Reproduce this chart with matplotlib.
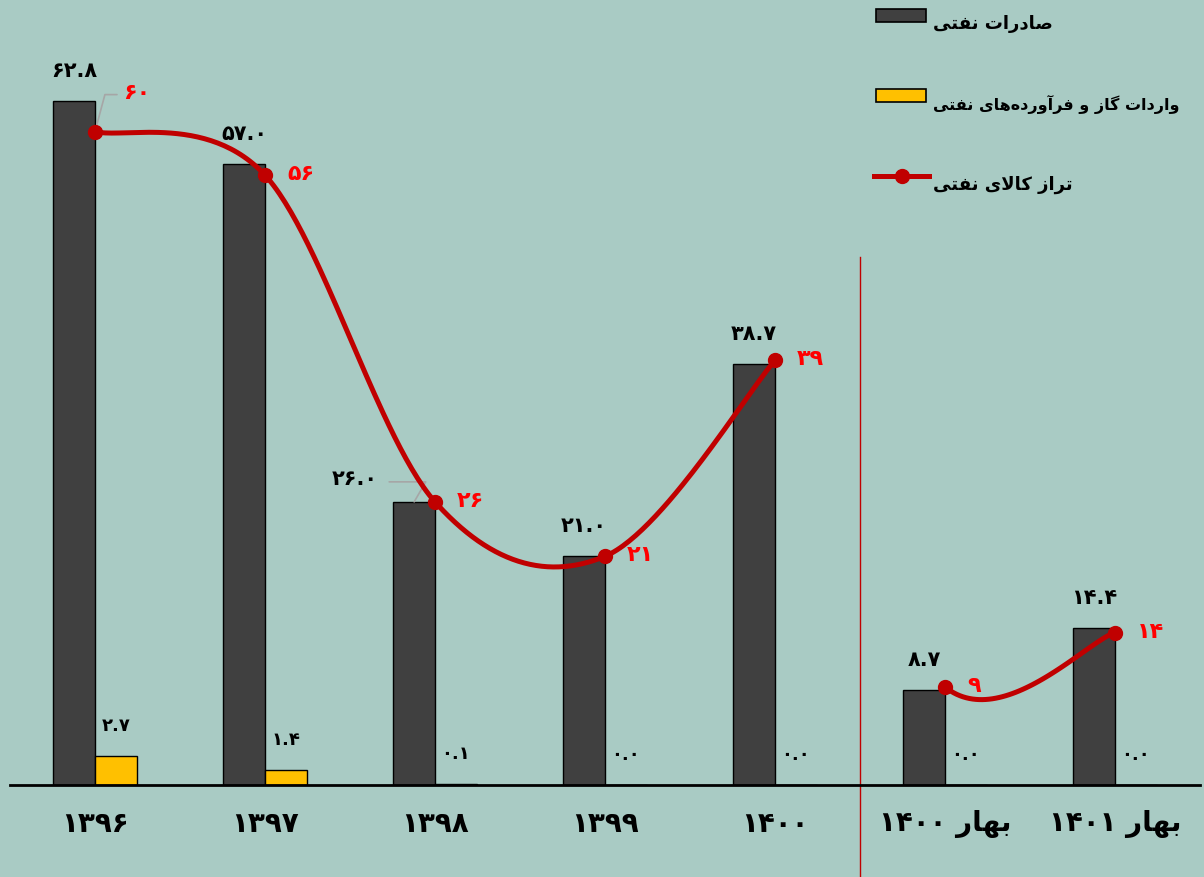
import re
import numpy as np
import matplotlib
matplotlib.use("Agg")
import matplotlib.pyplot as plt
from matplotlib.patches import Rectangle
from matplotlib.lines import Line2D

# ---------------- data ----------------
categories = ["۱۳۹۶", "۱۳۹۷", "۱۳۹۸", "۱۳۹۹", "۱۴۰۰", "بهار ۱۴۰۰", "بهار ۱۴۰۱"]
oil_exports = [62.8, 57.0, 26.0, 21.0, 38.7, 8.7, 14.4]
oil_imports = [2.7, 1.4, 0.1, 0.0, 0.0, 0.0, 0.0]
oil_balance = [60, 56, 26, 21, 39, 9, 14]
export_labels = ["۶۲.۸", "۵۷.۰", "۲۶.۰", "۲۱.۰", "۳۸.۷", "۸.۷", "۱۴.۴"]
import_labels = ["۲.۷", "۱.۴", "۰.۱", "۰.۰", "۰.۰", "۰.۰", "۰.۰"]
balance_labels = ["۶۰", "۵۶", "۲۶", "۲۱", "۳۹", "۹", "۱۴"]
legend_names = ["صادرات نفتی", "واردات گاز و فرآورده‌های نفتی", "تراز کالای نفتی"]

# ---------------- simple Persian shaping for display ----------------
FORMS = {
    'ا': ('\uFE8D', '\uFE8E', None, None),
    'آ': ('\uFE81', '\uFE82', None, None),
    'ب': ('\uFE8F', '\uFE90', '\uFE91', '\uFE92'),
    'ت': ('\uFE95', '\uFE96', '\uFE97', '\uFE98'),
    'د': ('\uFEA9', '\uFEAA', None, None),
    'ر': ('\uFEAD', '\uFEAE', None, None),
    'ز': ('\uFEAF', '\uFEB0', None, None),
    'ص': ('\uFEB9', '\uFEBA', '\uFEBB', '\uFEBC'),
    'ف': ('\uFED1', '\uFED2', '\uFED3', '\uFED4'),
    'ل': ('\uFEDD', '\uFEDE', '\uFEDF', '\uFEE0'),
    'ن': ('\uFEE5', '\uFEE6', '\uFEE7', '\uFEE8'),
    'ه': ('\uFEE9', '\uFEEA', '\uFEEB', '\uFEEC'),
    'و': ('\uFEED', '\uFEEE', None, None),
    'ک': ('\uFB8E', '\uFB8F', '\uFB90', '\uFB91'),
    'گ': ('\uFB92', '\uFB93', '\uFB94', '\uFB95'),
    'ی': ('\uFBFC', '\uFBFD', '\uFBFE', '\uFBFF'),
}


def _dual(c):
    return c in FORMS and FORMS[c][2] is not None


def shape(text):
    chars = list(text)
    out = []
    i = 0
    n = len(chars)
    while i < n:
        c = chars[i]
        if c not in FORMS:
            if c != '\u200c':
                out.append(c)
            i += 1
            continue
        prev = chars[i - 1] if i > 0 else None
        jp = prev is not None and _dual(prev)
        if c == 'ل' and i + 1 < n and chars[i + 1] in ('ا', 'آ'):
            lig = ('\uFEFB', '\uFEFC') if chars[i + 1] == 'ا' else ('\uFEF5', '\uFEF6')
            out.append(lig[1] if jp else lig[0])
            i += 2
            continue
        nxt = chars[i + 1] if i + 1 < n else None
        jn = _dual(c) and nxt is not None and nxt in FORMS
        iso, fin, ini, med = FORMS[c]
        if jp and jn:
            out.append(med)
        elif jp:
            out.append(fin)
        elif jn:
            out.append(ini)
        else:
            out.append(iso)
        i += 1
    s = ''.join(out)[::-1]
    s = re.sub(r'[۰-۹0-9.]+', lambda m: m.group(0)[::-1], s)
    return s


# ---------------- style ----------------
BG = "#a9cbc4"
DARK = "#404040"
YELLOW = "#ffc000"
LINE_RED = "#c00000"
LABEL_RED = "#ff0000"
GRAY = "#a6a6a6"
plt.rcParams['font.family'] = ["DejaVu Sans"]

W, H = 1204, 878
fig = plt.figure(figsize=(W / 100, H / 100), dpi=100, facecolor=BG)
ax = fig.add_axes([10 / W, (H - 786) / H, 1190 / W, 786 / H])
ax.set_facecolor(BG)

x = np.arange(len(categories))
bw = 0.245
ax.bar(x - bw / 2, oil_exports, width=bw, color=DARK, edgecolor="black", linewidth=1.0, zorder=2)
ax.bar(x + bw / 2, oil_imports, width=bw, color=YELLOW, edgecolor="black", linewidth=1.0, zorder=2)

ax.set_xlim(-0.5, 6.5)
ax.set_ylim(0, 786 / 10.89)


def smooth(px, py, prev=None, nxt=None, n=60):
    pts = np.column_stack([px, py]).astype(float)
    xs, ys = [], []
    m = len(pts)
    for k in range(m - 1):
        p0 = pts[k]
        p1 = pts[k + 1]
        pm = pts[k - 1] if k > 0 else (np.array(prev, float) if prev is not None else p0)
        pn = pts[k + 2] if k + 2 < m else (np.array(nxt, float) if nxt is not None else p1)
        c1 = p0 + (p1 - pm) / 6.0
        c2 = p1 - (pn - p0) / 6.0
        t = np.linspace(0, 1, n)[:, None]
        b = ((1 - t) ** 3) * p0 + 3 * ((1 - t) ** 2) * t * c1 + 3 * (1 - t) * t ** 2 * c2 + t ** 3 * p1
        xs.extend(b[:, 0])
        ys.extend(b[:, 1])
    return np.array(xs), np.array(ys)


sx1, sy1 = smooth(x[:5], oil_balance[:5])
sx2, sy2 = smooth(x[5:], oil_balance[5:], prev=(x[4], oil_balance[4]))
for sx, sy in [(sx1, sy1), (sx2, sy2)]:
    ax.plot(sx, sy, color=LINE_RED, lw=3.6, zorder=4, solid_capstyle='round')
ax.plot(x, oil_balance, 'o', color=LINE_RED, ms=10, zorder=5)

# divider line
ax.plot([4.5, 4.5], [-8.5, 48.5], color=LINE_RED, lw=1.0, clip_on=False, zorder=1)

for s in ['top', 'right', 'left']:
    ax.spines[s].set_visible(False)
ax.spines['bottom'].set_linewidth(2.0)
ax.spines['bottom'].set_color('black')
ax.set_yticks([])
ax.set_xticks(x)
ax.set_xticklabels([shape(c) for c in categories], fontsize=20, fontweight='bold')
ax.tick_params(axis='x', length=0, pad=17)

pt = 72 / 100.0
lab_fs = 15
red_fs = 16
for i in range(len(x)):
    if i == 2:
        ax.annotate(export_labels[i], xy=(x[i] - bw / 2, oil_exports[i]),
                    xytext=(-59 * pt, 24 * pt), textcoords='offset points',
                    ha='center', va='center', fontsize=lab_fs, fontweight='bold', zorder=6)
        ax.annotate("", xy=(x[i] - bw / 2, oil_exports[i]), xytext=(-25 * pt, 20 * pt),
                    textcoords='offset points',
                    arrowprops=dict(arrowstyle='-', color=GRAY, lw=1.2,
                                    shrinkA=0, shrinkB=0,
                                    connectionstyle='angle,angleA=180,angleB=60,rad=0'))
    else:
        ax.annotate(export_labels[i], xy=(x[i] - bw / 2, oil_exports[i]),
                    xytext=(0, 31 * pt), textcoords='offset points',
                    ha='center', va='center', fontsize=lab_fs, fontweight='bold', zorder=6)
    ax.annotate(import_labels[i], xy=(x[i] + bw / 2, oil_imports[i]),
                xytext=(0, 31 * pt), textcoords='offset points',
                ha='center', va='center', fontsize=13, fontweight='bold', zorder=6)
    if i == 0:
        ax.annotate(balance_labels[i], xy=(x[i], oil_balance[i]),
                    xytext=(28 * pt, 40 * pt), textcoords='offset points',
                    ha='left', va='center', fontsize=red_fs, fontweight='bold',
                    color=LABEL_RED, zorder=6)
        ax.annotate("", xy=(x[i], oil_balance[i]), xytext=(22 * pt, 37 * pt),
                    textcoords='offset points',
                    arrowprops=dict(arrowstyle='-', color=GRAY, lw=1.2,
                                    shrinkA=0, shrinkB=0,
                                    connectionstyle='angle,angleA=0,angleB=75,rad=0'))
    else:
        ax.annotate(balance_labels[i], xy=(x[i], oil_balance[i]),
                    xytext=(22 * pt, 2 * pt), textcoords='offset points',
                    ha='left', va='center', fontsize=red_fs, fontweight='bold',
                    color=LABEL_RED, zorder=6)


def fx(px):
    return px / W


def fy(py):
    return 1 - py / H


fig.patches.append(Rectangle((fx(876), fy(23)), fx(50), 13 / H, transform=fig.transFigure,
                             facecolor=DARK, edgecolor='black', lw=1.2))
fig.patches.append(Rectangle((fx(876), fy(103)), fx(50), 13 / H, transform=fig.transFigure,
                             facecolor=YELLOW, edgecolor='black', lw=1.2))
fig.lines.append(Line2D([fx(874), fx(929)], [fy(177), fy(177)], transform=fig.transFigure,
                        color=LINE_RED, lw=3.6))
fig.lines.append(Line2D([fx(902)], [fy(177)], transform=fig.transFigure,
                        color=LINE_RED, marker='o', ms=10, lw=0))
leg_y = [24, 104, 185]
leg_fs = [13, 11.5, 13]
for name, yy, fs in zip(legend_names, leg_y, leg_fs):
    fig.text(fx(933), fy(yy), shape(name), ha='left', va='center', fontsize=fs,
             fontweight='bold', color='black')

fig.savefig("out.png", dpi=100, facecolor=BG)
